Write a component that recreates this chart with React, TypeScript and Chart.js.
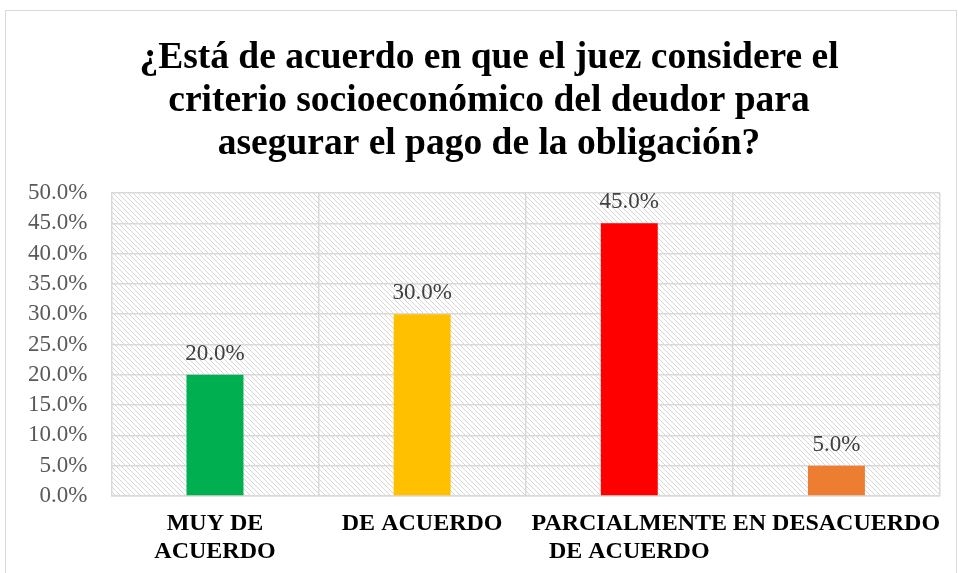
import React, { useEffect, useRef } from "react";
import { Chart, registerables } from "chart.js";

Chart.register(...registerables);

const titleLines = [
  "¿Está de acuerdo en que el juez considere el",
  "criterio socioeconómico del deudor para",
  "asegurar el pago de la obligación?",
];
const categories = [
  ["MUY DE", "ACUERDO"],
  ["DE ACUERDO"],
  ["PARCIALMENTE", "DE ACUERDO"],
  ["EN DESACUERDO"],
];
const values = [0.2, 0.3, 0.45, 0.05];
const barColors = ["#00B050", "#FFC000", "#FF0000", "#ED7D31"];
const yMax = 0.5;
const yStep = 0.05;

const SERIF = "'Liberation Serif', 'Times New Roman', serif";

function makePattern(): CanvasPattern | string {
  const c = document.createElement("canvas");
  c.width = 5;
  c.height = 5;
  const ctx = c.getContext("2d");
  if (!ctx) return "#fff";
  ctx.fillStyle = "#ffffff";
  ctx.fillRect(0, 0, 5, 5);
  ctx.strokeStyle = "#d6d6d6";
  ctx.lineWidth = 1;
  ctx.beginPath();
  ctx.moveTo(-1, -1);
  ctx.lineTo(6, 6);
  ctx.moveTo(-1, 4);
  ctx.lineTo(1, 6);
  ctx.moveTo(4, -1);
  ctx.lineTo(6, 1);
  ctx.stroke();
  return ctx.createPattern(c, "repeat") || "#fff";
}

const bgPlugin = {
  id: "bgPlugin",
  beforeDraw(chart: any) {
    const { ctx, chartArea } = chart;
    ctx.save();
    ctx.fillStyle = "#ffffff";
    ctx.fillRect(0, 0, chart.width, chart.height);
    ctx.strokeStyle = "#d9d9d9";
    ctx.lineWidth = 1;
    ctx.strokeRect(5.5, 10.5, chart.width - 7, chart.height);
    ctx.fillStyle = makePattern();
    ctx.fillRect(chartArea.left, chartArea.top, chartArea.right - chartArea.left, chartArea.bottom - chartArea.top);
    ctx.restore();
  },
};

const titlePlugin = {
  id: "titlePlugin",
  afterDraw(chart: any) {
    const { ctx } = chart;
    ctx.save();
    ctx.font = `bold 37.5px ${SERIF}`;
    ctx.fillStyle = "#000000";
    ctx.textAlign = "center";
    ctx.textBaseline = "middle";
    titleLines.forEach((line, i) => {
      ctx.fillText(line, 489, 58.5 + i * 43);
    });
    ctx.restore();
  },
};

const labelPlugin = {
  id: "labelPlugin",
  afterDatasetsDraw(chart: any) {
    const { ctx } = chart;
    const meta = chart.getDatasetMeta(0);
    ctx.save();
    ctx.font = `23px ${SERIF}`;
    ctx.fillStyle = "#404040";
    ctx.textAlign = "center";
    ctx.textBaseline = "alphabetic";
    meta.data.forEach((bar: any, i: number) => {
      const v = values[i];
      ctx.fillText((v * 100).toFixed(1) + "%", bar.x, bar.y - 15);
    });
    ctx.restore();
  },
};

export default function App() {
  const ref = useRef<HTMLCanvasElement>(null);
  useEffect(() => {
    if (!ref.current) return;
    const chart = new Chart(ref.current, {
      type: "bar",
      data: {
        labels: categories,
        datasets: [
          {
            data: values,
            backgroundColor: barColors,
            categoryPercentage: 1,
            barPercentage: 0.275,
          },
        ],
      },
      options: {
        animation: false,
        responsive: false,
        maintainAspectRatio: false,
        layout: { padding: { top: 193, left: 4, right: 18, bottom: -7 } },
        plugins: {
          legend: { display: false },
          tooltip: { enabled: false },
          title: { display: false },
        },
        scales: {
          x: {
            grid: { color: "#d9d9d9", lineWidth: 1.5, offset: true, drawTicks: false },
            border: { display: true, color: "#d9d9d9", width: 1.5 },
            ticks: {
              color: "#000000",
              font: { family: SERIF, size: 24, weight: "bold", lineHeight: 1.1667 },
              padding: 14,
              maxRotation: 0,
              autoSkip: false,
            },
          },
          y: {
            min: 0,
            max: yMax,
            grid: { color: "#d9d9d9", lineWidth: 1.5, drawTicks: false },
            border: { display: false },
            ticks: {
              stepSize: yStep,
              autoSkip: false,
              color: "#595959",
              font: { family: SERIF, size: 23, lineHeight: 1 },
              padding: 24,
              callback: (v: any) => (Number(v) * 100).toFixed(1) + "%",
            },
          },
        },
      },
      plugins: [bgPlugin, labelPlugin, titlePlugin],
    });
    return () => chart.destroy();
  }, []);
  return (
    <div style={{ position: "absolute", left: 0, top: 0, width: 958, height: 573 }}>
      <canvas ref={ref} width={958} height={573} style={{ width: 958, height: 573 }} />
    </div>
  );
}
